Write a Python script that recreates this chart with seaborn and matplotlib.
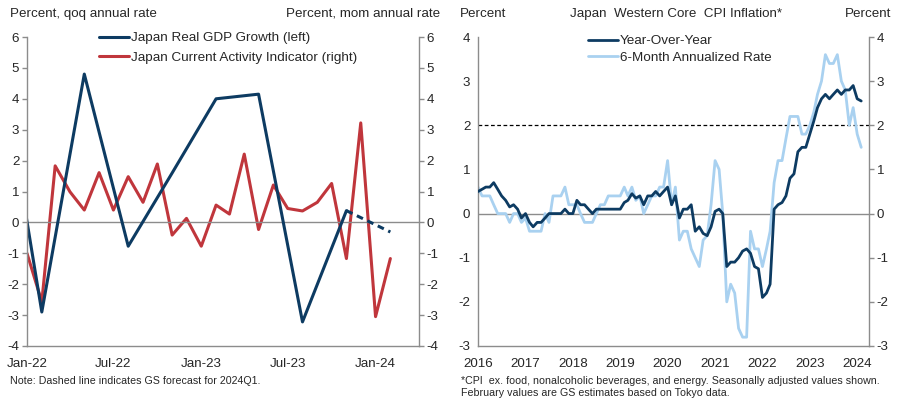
import matplotlib
matplotlib.use("Agg")
import matplotlib.dates as mdates
import matplotlib.pyplot as plt
import pandas as pd
import seaborn as sns

# ---- left panel: GDP (quarterly, plotted mid-quarter) and current activity indicator
gdp_dates = pd.to_datetime(["2021-11-01", "2022-02-01", "2022-05-01", "2022-08-01", "2022-11-01",
                            "2023-02-01", "2023-05-01", "2023-08-01", "2023-11-01"])
gdp_values = [5.8, -2.9, 4.8, -0.77, 1.6, 4.0, 4.15, -3.22, 0.38]
fcst_dates = pd.to_datetime(["2023-11-01", "2024-02-01"])
fcst_values = [0.38, -0.31]

cai_dates = pd.date_range("2022-01-01", "2024-02-01", freq="MS")
cai_values = [-1.0, -2.57, 1.83, 0.99, 0.40, 1.61, 0.40, 1.48, 0.65, 1.89, -0.41, 0.13,
              -0.77, 0.56, 0.27, 2.21, -0.23, 1.21, 0.45, 0.37, 0.65, 1.26, -1.17, 3.22,
              -3.05, -1.17]

# ---- right panel: Western core CPI
cpi_dates = pd.date_range("2016-01-01", "2024-02-01", freq="MS")
cpi_yoy = [0.5, 0.55, 0.6, 0.6, 0.7, 0.55, 0.4, 0.3, 0.15, 0.2, 0.1, -0.1,
           0.0, -0.2, -0.3, -0.2, -0.2, -0.1, 0.0, 0.0, 0.0, 0.0, 0.1, 0.0,
           0.0, 0.3, 0.2, 0.2, 0.1, 0.0, 0.1, 0.1, 0.1, 0.1, 0.1, 0.1,
           0.1, 0.25, 0.3, 0.45, 0.35, 0.4, 0.2, 0.4, 0.4, 0.5, 0.4, 0.5,
           0.6, 0.2, 0.4, -0.1, 0.1, 0.1, 0.2, -0.4, -0.3, -0.45, -0.5, -0.3,
           0.05, 0.1, 0.0, -1.2, -1.1, -1.1, -1.0, -0.85, -0.8, -0.9, -1.2, -1.25,
           -1.9, -1.8, -1.6, 0.1, 0.2, 0.25, 0.4, 0.8, 0.9, 1.4, 1.5, 1.5,
           1.8, 2.1, 2.4, 2.6, 2.7, 2.6, 2.7, 2.8, 2.7, 2.8, 2.8, 2.9,
           2.6, 2.55]
cpi_6m = [0.6, 0.4, 0.4, 0.4, 0.2, 0.0, 0.0, 0.0, -0.2, 0.0, 0.0, -0.2,
          -0.1, -0.4, -0.4, -0.4, -0.4, 0.0, -0.2, 0.4, 0.4, 0.4, 0.6, 0.2,
          0.2, 0.2, 0.0, -0.2, -0.2, -0.2, 0.0, 0.2, 0.2, 0.4, 0.4, 0.4,
          0.4, 0.6, 0.4, 0.6, 0.3, 0.4, 0.0, 0.2, 0.4, 0.4, 0.6, 0.6,
          1.2, 0.2, 0.6, -0.6, -0.4, -0.4, -0.8, -1.0, -1.2, -0.6, -0.5, 0.2,
          1.2, 1.0, 0.0, -2.0, -1.6, -1.8, -2.6, -2.8, -2.8, -0.4, -0.8, -0.8,
          -1.2, -0.8, -0.4, 0.7, 1.2, 1.2, 1.7, 2.2, 2.2, 2.2, 1.8, 1.8,
          2.0, 2.3, 2.7, 3.0, 3.6, 3.4, 3.4, 3.6, 3.0, 2.8, 2.0, 2.4,
          1.8, 1.5]

NAVY = "#0d3b62"
RED = "#c0363c"
LIGHT = "#a9d1f0"
GREY = "#8c8c8c"
FS = 9.6     # titles / ticks
FS_LEG = 9.7
FS_NOTE = 7.7

sns.set_style("white")
plt.rcParams["font.family"] = ["Liberation Sans", "DejaVu Sans"]
plt.rcParams["font.size"] = FS
plt.rcParams["axes.unicode_minus"] = False

W, H = 903, 407
fig = plt.figure(figsize=(W / 100, H / 100), dpi=100)


def frac(left, top, right, bottom):
    return [left / W, 1 - bottom / H, (right - left) / W, (bottom - top) / H]


def style_axis(ax):
    for side in ["left", "right", "bottom"]:
        ax.spines[side].set_color(GREY)
        ax.spines[side].set_linewidth(1.0)
    ax.spines["top"].set_visible(False)
    ax.tick_params(axis="both", direction="out", length=3.5, width=1.0, color=GREY,
                   labelsize=FS, pad=2)


# ------------------------------------------------------------ left panel
ax1 = fig.add_axes(frac(27, 37, 419, 346))
ax1r = ax1.twinx()
ax1.axhline(0, color=GREY, lw=1.0, zorder=1)
sns.lineplot(x=cai_dates, y=cai_values, ax=ax1r, color=RED, lw=2.2,
             label="Japan Current Activity Indicator (right)", legend=False)
sns.lineplot(x=gdp_dates, y=gdp_values, ax=ax1, color=NAVY, lw=2.2,
             label="Japan Real GDP Growth (left)", legend=False)
sns.lineplot(x=fcst_dates, y=fcst_values, ax=ax1, color=NAVY, lw=2.2,
             linestyle=(0, (2.2, 1.6)), legend=False)
ax1.set_zorder(ax1r.get_zorder() + 1)
ax1.patch.set_visible(False)

for a in (ax1, ax1r):
    a.set_ylim(-4, 6)
    a.set_yticks(range(-4, 7))
    a.set_ylabel("")
    a.set_xlabel("")
    style_axis(a)
ax1.set_xlim(pd.Timestamp("2022-01-01"), pd.Timestamp("2024-04-01"))
ax1.set_xticks(pd.to_datetime(["2022-01-01", "2022-07-01", "2023-01-01", "2023-07-01", "2024-01-01"]))
ax1.xaxis.set_major_formatter(mdates.DateFormatter("%b-%y"))
ax1.tick_params(axis="x", pad=5)
ax1r.spines["left"].set_visible(False)
ax1r.spines["bottom"].set_visible(False)
ax1.spines["right"].set_visible(False)

h1 = [ax1.get_lines()[1], ax1r.get_lines()[0]]
fig.legend(h1, ["Japan Real GDP Growth (left)", "Japan Current Activity Indicator (right)"],
           loc="upper left", bbox_to_anchor=(99 / W, 1 - 32 / H), frameon=False,
           handlelength=2.2, handletextpad=0.15, labelspacing=0.5, borderpad=0,
           borderaxespad=0, fontsize=FS_LEG)

fig.text(10 / W, 1 - 14 / H, "Percent, qoq annual rate", ha="left", va="center", fontsize=FS)
fig.text(440 / W, 1 - 14 / H, "Percent, mom annual rate", ha="right", va="center", fontsize=FS)
fig.text(10 / W, 1 - 381 / H, "Note: Dashed line indicates GS forecast for 2024Q1.",
         ha="left", va="center", fontsize=FS_NOTE)

# ------------------------------------------------------------ right panel
ax2 = fig.add_axes(frac(478, 37, 869, 346))
ax2.axhline(0, color=GREY, lw=1.0, zorder=1)
ax2.axhline(2, color="black", lw=0.9, linestyle=(0, (3, 2)), zorder=1)
sns.lineplot(x=cpi_dates, y=cpi_yoy, ax=ax2, color=NAVY, lw=2.0,
             label="Year-Over-Year", legend=False, zorder=3)
sns.lineplot(x=cpi_dates, y=cpi_6m, ax=ax2, color=LIGHT, lw=2.0,
             label="6-Month Annualized Rate", legend=False, zorder=2)
ax2.set_ylim(-3, 4)
ax2.set_yticks(range(-3, 5))
ax2.set_xlim(pd.Timestamp("2016-01-01"), pd.Timestamp("2024-04-01"))
ax2.set_xticks(pd.date_range("2016-01-01", "2024-01-01", freq="YS"))
ax2.xaxis.set_major_formatter(mdates.DateFormatter("%Y"))
ax2.set_xlabel("")
ax2.set_ylabel("")
style_axis(ax2)
ax2.tick_params(axis="y", right=True, labelright=True)
ax2.tick_params(axis="x", pad=5)

fig.legend(ax2.get_lines()[2:4], ["Year-Over-Year", "6-Month Annualized Rate"],
           loc="upper left", bbox_to_anchor=(588 / W, 1 - 35 / H), frameon=False,
           handlelength=2.2, handletextpad=0.15, labelspacing=0.3, borderpad=0,
           borderaxespad=0, fontsize=FS_LEG)

fig.text(460 / W, 1 - 14 / H, "Percent", ha="left", va="center", fontsize=FS)
fig.text(676 / W, 1 - 14 / H, "Japan  Western Core  CPI Inflation*", ha="center", va="center", fontsize=FS)
fig.text(891 / W, 1 - 14 / H, "Percent", ha="right", va="center", fontsize=FS)
fig.text(461 / W, 1 - 381 / H,
         "*CPI  ex. food, nonalcoholic beverages, and energy. Seasonally adjusted values shown.",
         ha="left", va="center", fontsize=FS_NOTE)
fig.text(461 / W, 1 - 393 / H, "February values are GS estimates based on Tokyo data.",
         ha="left", va="center", fontsize=FS_NOTE)

fig.savefig("out.png", dpi=100)
